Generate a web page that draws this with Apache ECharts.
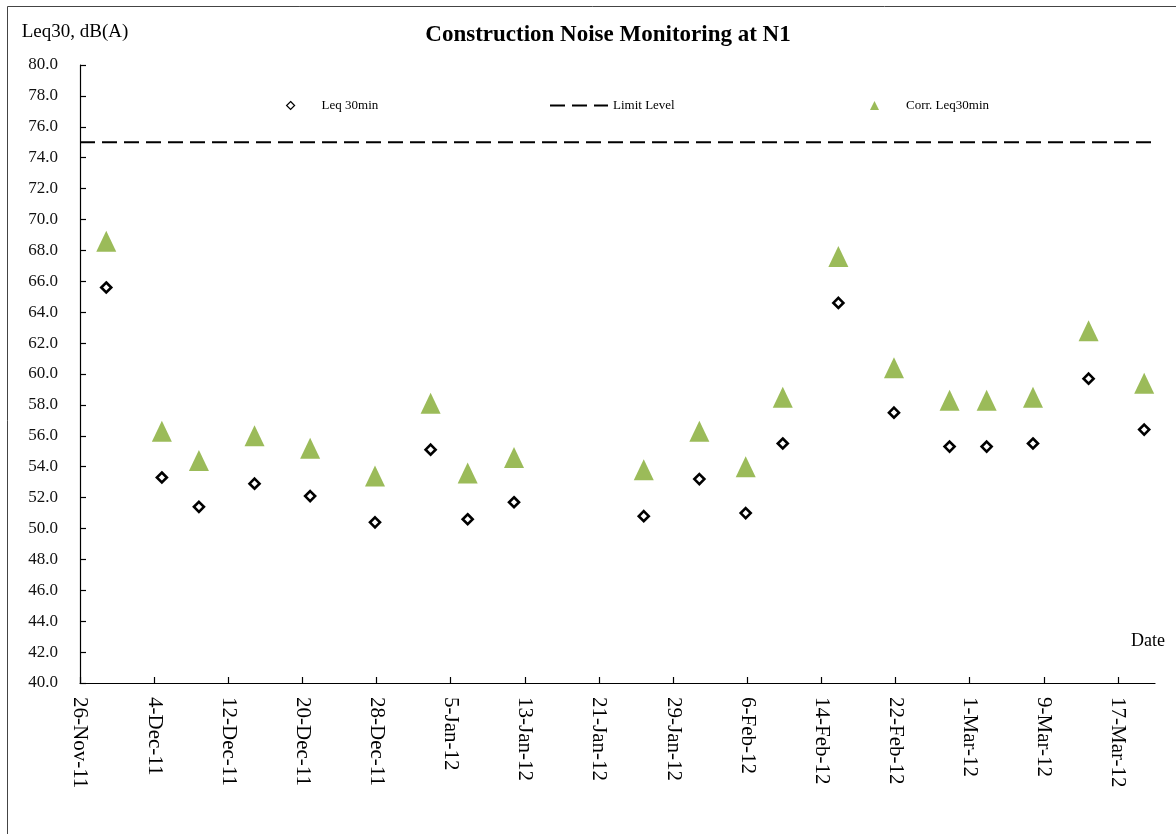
<!DOCTYPE html>
<html>
<head>
<meta charset="utf-8">
<title>Construction Noise Monitoring at N1</title>
<script src="https://cdn.jsdelivr.net/npm/echarts@6/dist/echarts.min.js"></script>
<style>
  html, body { margin: 0; padding: 0; background: #ffffff; }
  #chart { width: 1176px; height: 834px; }
</style>
</head>
<body>
<div id="chart"></div>
<script>
// Date axis extent and labelled ticks (every 8 days)
const axisStart = '2011-11-26';
const axisEnd = '2012-03-21';
const tickDates = [
  '2011-11-26', '2011-12-04', '2011-12-12', '2011-12-20', '2011-12-28',
  '2012-01-05', '2012-01-13', '2012-01-21', '2012-01-29', '2012-02-06',
  '2012-02-14', '2012-02-22', '2012-03-01', '2012-03-09', '2012-03-17'
];

// Monitoring sessions
const sampleTimes = [
  '2011-11-28 20:00', '2011-12-04 20:00', '2011-12-08 20:00', '2011-12-14 20:00',
  '2011-12-20 20:00', '2011-12-27 20:00', '2012-01-02 20:00', '2012-01-06 20:00',
  '2012-01-11 20:00', '2012-01-25 20:00', '2012-01-31 20:00', '2012-02-05 20:00',
  '2012-02-09 20:00', '2012-02-15 20:00', '2012-02-21 20:00', '2012-02-27 20:00',
  '2012-03-02 20:00', '2012-03-07 20:00', '2012-03-13 20:00', '2012-03-19 20:00'
];

// Measured Leq 30min, dB(A)
const leqValues = [
  65.6, 53.3, 51.4, 52.9, 52.1, 50.4, 55.1, 50.6, 51.7, 50.8,
  53.2, 51.0, 55.5, 64.6, 57.5, 55.3, 55.3, 55.5, 59.7, 56.4
];

// Corrected Leq 30min, dB(A)
const corrValues = [
  68.6, 56.3, 54.4, 56.0, 55.2, 53.4, 58.1, 53.6, 54.6, 53.8,
  56.3, 54.0, 58.5, 67.6, 60.4, 58.3, 58.3, 58.5, 62.8, 59.4
];

// Noise limit, dB(A)
const limitLevel = 75;

const yMin = 40, yMax = 80, yStep = 2;

const DAY = 86400000;
const MONTHS = ['Jan', 'Feb', 'Mar', 'Apr', 'May', 'Jun', 'Jul', 'Aug', 'Sep', 'Oct', 'Nov', 'Dec'];

function toMs(s) {
  const parts = s.split(' ');
  const [y, m, d] = parts[0].split('-').map(Number);
  let ms = Date.UTC(y, m - 1, d);
  if (parts[1]) {
    const [h, mi] = parts[1].split(':').map(Number);
    ms += (h * 60 + mi) * 60000;
  }
  return ms;
}
const startMs = toMs(axisStart);
function dayOffset(s) { return (toMs(s) - startMs) / DAY; }
function fmtDate(v) {
  const dt = new Date(startMs + Math.round(v) * DAY);
  return dt.getUTCDate() + '-' + MONTHS[dt.getUTCMonth()] + '-' + String(dt.getUTCFullYear()).slice(2);
}

const serif = "'Liberation Serif', 'Times New Roman', 'DejaVu Serif', serif";
const xMax = dayOffset(axisEnd);
const tickValues = tickDates.map(dayOffset);

const leqData = sampleTimes.map((t, i) => [dayOffset(t), leqValues[i]]);
const corrData = sampleTimes.map((t, i) => [dayOffset(t), corrValues[i]]);
const limitData = [[0, limitLevel], [xMax, limitLevel]];

const legendText = { fontFamily: serif, fontSize: 13, color: '#000' };

const chart = echarts.init(document.getElementById('chart'), null, { renderer: 'canvas' });

chart.setOption({
  backgroundColor: '#ffffff',
  animation: false,
  title: {
    text: 'Construction Noise Monitoring at N1',
    left: 603,
    textAlign: 'center',
    top: 19,
    textStyle: { fontFamily: serif, fontSize: 23, fontWeight: 'bold', color: '#000' }
  },
  legend: [
    {
      data: ['Leq 30min'], left: 281, top: 94, itemWidth: 8, itemHeight: 8,
      itemStyle: { borderWidth: 1.2 },
      textStyle: Object.assign({ padding: [0, 0, 0, 22] }, legendText), selectedMode: false
    },
    {
      data: ['Limit Level'], left: 544, top: 94, itemWidth: 58, itemHeight: 8,
      itemStyle: { opacity: 0 },
      textStyle: legendText, selectedMode: false
    },
    {
      data: ['Corr. Leq30min'], left: 865, top: 94, itemWidth: 9, itemHeight: 9,
      textStyle: Object.assign({ padding: [0, 0, 0, 22] }, legendText), selectedMode: false
    }
  ],
  grid: { left: 80, right: 21, top: 65, bottom: 151, containLabel: false, outerBoundsMode: 'none' },
  xAxis: {
    type: 'value',
    min: 0,
    max: xMax,
    name: 'Date',
    nameLocation: 'end',
    nameGap: 10,
    nameTextStyle: { fontFamily: serif, fontSize: 18, color: '#000', align: 'right', verticalAlign: 'bottom', padding: [0, 0, 33, 0] },
    axisLine: { show: true, lineStyle: { color: '#000', width: 1.2 } },
    axisTick: { show: true, inside: true, length: 6, customValues: tickValues, lineStyle: { color: '#000', width: 1.2 } },
    axisLabel: {
      customValues: tickValues,
      rotate: -90,
      margin: 14,
      fontFamily: serif,
      fontSize: 21,
      color: '#000',
      formatter: fmtDate
    },
    splitLine: { show: false }
  },
  yAxis: {
    type: 'value',
    min: yMin,
    max: yMax,
    interval: yStep,
    name: 'Leq30, dB(A)',
    nameLocation: 'end',
    nameGap: 23,
    nameTextStyle: { fontFamily: serif, fontSize: 19, color: '#000', align: 'center', padding: [0, 10, 0, 0] },
    axisLine: { show: true, lineStyle: { color: '#000', width: 1.2 } },
    axisTick: { show: true, inside: true, length: 6, lineStyle: { color: '#000', width: 1.2 } },
    axisLabel: {
      margin: 22,
      fontFamily: serif,
      fontSize: 17,
      color: '#111',
      formatter: v => v.toFixed(1)
    },
    splitLine: { show: false }
  },
  series: [
    {
      name: 'Leq 30min',
      type: 'scatter',
      symbol: 'diamond',
      symbolSize: 10,
      data: leqData,
      itemStyle: { color: '#ffffff', borderColor: '#000', borderWidth: 2.6, opacity: 1 },
      z: 3
    },
    {
      name: 'Limit Level',
      type: 'line',
      data: limitData,
      symbol: 'none',
      showSymbol: false,
      silent: true,
      lineStyle: { color: '#000', width: 2, type: [15, 7] },
      itemStyle: { color: '#000' },
      z: 2
    },
    {
      name: 'Corr. Leq30min',
      type: 'scatter',
      symbol: 'triangle',
      symbolSize: [20, 21],
      data: corrData,
      itemStyle: { color: '#9BBB59', opacity: 1 },
      z: 3
    }
  ],
  graphic: [
    {
      type: 'rect',
      shape: { x: 7.5, y: 6.5, width: 1200, height: 900 },
      style: { fill: 'none', stroke: '#444', lineWidth: 1 },
      silent: true,
      z: 0
    }
  ]
});
</script>
</body>
</html>
